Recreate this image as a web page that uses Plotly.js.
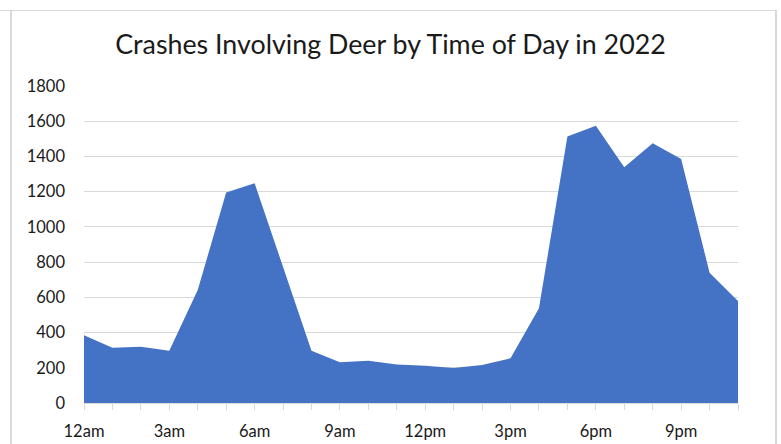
<!DOCTYPE html>
<html>
<head>
<meta charset="utf-8">
<script src="https://cdn.plot.ly/plotly-3.0.1.min.js"></script>
<style>
  html, body { margin: 0; padding: 0; background: #ffffff; }
  #wrap { position: relative; width: 781px; height: 444px; overflow: hidden; }
  #chart { position: absolute; left: 0; top: 0; width: 781px; height: 444px; }
  #frame { position: absolute; left: 10px; top: 10px; width: 763px; height: 440px;
           border-left: 2px solid #d9d9d9; border-top: 1px solid #d9d9d9; border-right: 2px solid #d9d9d9;
           pointer-events: none; }
  #stub { position: absolute; left: 0; top: 10px; width: 10px; height: 1px; background: #d9d9d9; }
</style>
</head>
<body>
<div id="wrap">
  <div id="chart"></div>
  <div id="frame"></div>
  <div id="stub"></div>
</div>
<script>
const hours = [0,1,2,3,4,5,6,7,8,9,10,11,12,13,14,15,16,17,18,19,20,21,22,23];
const hourLabels = ["12am","","","3am","","","6am","","","9am","","","12pm","","","3pm","","","6pm","","","9pm","",""];
const crashes = [385,314,320,297,642,1195,1248,773,297,231,240,218,212,199,216,254,538,1513,1575,1339,1475,1386,740,579];
const yTicks = [0,200,400,600,800,1000,1200,1400,1600,1800];

const trace = {
  x: hours,
  y: crashes,
  type: 'scatter',
  mode: 'lines',
  fill: 'tozeroy',
  fillcolor: '#4472C4',
  line: { width: 0, color: '#4472C4' },
  hoverinfo: 'x+y'
};

const layout = {
  width: 781,
  height: 444,
  margin: { l: 84, r: 43, t: 86, b: 41 },
  paper_bgcolor: '#ffffff',
  plot_bgcolor: '#ffffff',
  showlegend: false,
  font: { family: 'Lato, "Open Sans", sans-serif', color: '#595959', size: 16 },
  title: {
    text: 'Crashes Involving Deer by Time of Day in 2022',
    font: { family: 'Lato, "Open Sans", sans-serif', size: 26.8, color: '#1a1a1a' },
    x: 0.5, xanchor: 'center',
    y: 1 - 45/444, yref: 'container', yanchor: 'middle'
  },
  xaxis: {
    range: [0, 23],
    tickmode: 'array',
    tickvals: hours,
    ticktext: hourLabels,
    ticks: 'outside',
    ticklen: 6,
    tickcolor: '#d9d9d9',
    tickwidth: 1,
    showgrid: false,
    zeroline: false,
    showline: true,
    linecolor: '#d9d9d9',
    linewidth: 1,
    ticklabelstandoff: 7,
    tickfont: { color: '#1a1a1a', size: 16.5 },
    fixedrange: true
  },
  yaxis: {
    range: [0, 1800],
    tickmode: 'array',
    tickvals: yTicks,
    ticktext: yTicks.map(String),
    showgrid: true,
    gridcolor: '#d9d9d9',
    gridwidth: 1,
    zeroline: false,
    showline: false,
    ticks: '',
    ticklabelstandoff: 18,
    tickfont: { color: '#1a1a1a', size: 16.5 },
    fixedrange: true
  }
};

Plotly.newPlot('chart', [trace], layout, { displayModeBar: false, staticPlot: true });
</script>
</body>
</html>
